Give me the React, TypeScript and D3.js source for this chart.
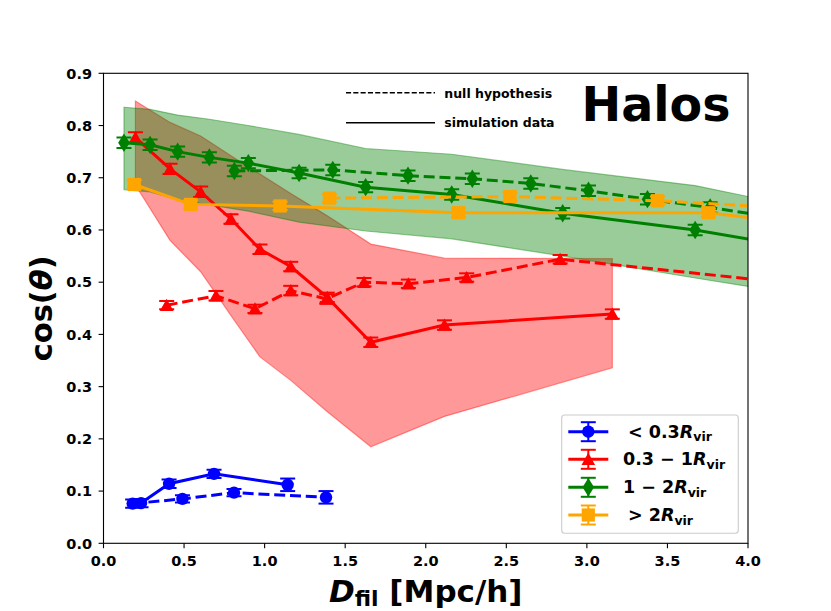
import React from 'react';
import * as d3 from 'd3';

// ---------- data ----------
const xTicks = [0.0, 0.5, 1.0, 1.5, 2.0, 2.5, 3.0, 3.5, 4.0];
const yTicks = [0.0, 0.1, 0.2, 0.3, 0.4, 0.5, 0.6, 0.7, 0.8, 0.9];

// < 0.3 Rvir (blue)
const blueSimX = [0.233, 0.407, 0.686, 1.143];
const blueSimY = [0.077, 0.114, 0.133, 0.112];
const blueSimE = [0.008, 0.008, 0.008, 0.012];
const blueNullX = [0.181, 0.49, 0.81, 1.381];
const blueNullY = [0.076, 0.085, 0.097, 0.088];
const blueNullE = [0.008, 0.007, 0.007, 0.012];

// 0.3 - 1 Rvir (red)
const redSimX = [0.198, 0.413, 0.603, 0.791, 0.971, 1.162, 1.389, 1.659, 2.116, 3.158];
const redSimY = [0.777, 0.717, 0.673, 0.621, 0.563, 0.53, 0.471, 0.385, 0.418, 0.439];
const redSimE = [0.01, 0.01, 0.01, 0.009, 0.009, 0.009, 0.009, 0.009, 0.009, 0.009];
const redNullX = [0.392, 0.698, 0.94, 1.162, 1.385, 1.617, 1.892, 2.254, 2.834, 4.3];
const redNullY = [0.456, 0.474, 0.449, 0.484, 0.468, 0.5, 0.497, 0.509, 0.544, 0.497];
const redNullE = [0.008, 0.009, 0.008, 0.009, 0.009, 0.008, 0.008, 0.008, 0.008, 0.008];
const redBandTop = [0.847, 0.806, 0.78, 0.742, 0.707, 0.67, 0.627, 0.573, 0.546, 0.545];
const redBandBot = [0.686, 0.58, 0.52, 0.436, 0.357, 0.312, 0.252, 0.185, 0.243, 0.336];

// 1 - 2 Rvir (green)
const greenSimX = [0.127, 0.289, 0.46, 0.657, 0.899, 1.214, 1.627, 2.161, 2.85, 3.672, 4.3];
const greenSimY = [0.767, 0.763, 0.75, 0.739, 0.728, 0.709, 0.682, 0.668, 0.632, 0.6, 0.567];
const greenSimE = [0.01, 0.01, 0.01, 0.01, 0.01, 0.01, 0.01, 0.01, 0.01, 0.01, 0.01];
const greenNullX = [0.812, 1.423, 1.89, 2.289, 2.652, 3.01, 3.376, 3.765, 4.3];
const greenNullY = [0.713, 0.715, 0.704, 0.698, 0.689, 0.675, 0.659, 0.643, 0.618];
const greenNullE = [0.01, 0.01, 0.01, 0.01, 0.01, 0.01, 0.01, 0.01, 0.01];
const greenBandTop = [0.835, 0.831, 0.82, 0.812, 0.8, 0.783, 0.756, 0.745, 0.716, 0.685, 0.645];
const greenBandBot = [0.677, 0.673, 0.658, 0.648, 0.636, 0.615, 0.598, 0.583, 0.55, 0.508, 0.477];

// > 2 Rvir (orange)
const orangeSimX = [0.191, 0.541, 1.096, 2.203, 3.754, 4.3];
const orangeSimY = [0.687, 0.649, 0.646, 0.633, 0.633, 0.613];
const orangeSimE = [0.008, 0.008, 0.008, 0.008, 0.008, 0.008];
const orangeNullX = [1.402, 2.523, 3.438, 4.3];
const orangeNullY = [0.661, 0.664, 0.656, 0.641];
const orangeNullE = [0.008, 0.008, 0.008, 0.008];

const legendLabels = ['< 0.3', '0.3 \u2212 1', '1 \u2212 2', '> 2'];

// ---------- layout ----------
const W = 831;
const H = 611;
const L = 103.5, R = 748, T = 73.3, B = 543.3;
const FONT = "'DejaVu Sans', sans-serif";

const xs = d3.scaleLinear().domain([0, 4]).range([L, R]);
const ys = d3.scaleLinear().domain([0, 0.9]).range([B, T]);

type Mk = 'o' | '^' | 'd' | 's';

function marker(type: Mk, cx: number, cy: number, color: string, key: string) {
  if (type === 'o') return <circle key={key} cx={cx} cy={cy} r={6.2} fill={color} />;
  if (type === '^')
    return <path key={key} d={`M${cx},${cy - 6.5}L${cx + 6.8},${cy + 5.8}L${cx - 6.8},${cy + 5.8}Z`} fill={color} />;
  if (type === 'd')
    return <path key={key} d={`M${cx},${cy - 9.2}L${cx + 5.8},${cy}L${cx},${cy + 9.2}L${cx - 5.8},${cy}Z`} fill={color} />;
  return <rect key={key} x={cx - 6.6} y={cy - 6.6} width={13.2} height={13.2} fill={color} />;
}

function Series(props: {
  xv: number[]; yv: number[]; ev: number[]; color: string; mk: Mk; dashed: boolean; id: string;
}) {
  const { xv, yv, ev, color, mk, dashed, id } = props;
  const pts: [number, number][] = xv.map((v, i) => [v, yv[i]]);
  const line = d3.line<[number, number]>().x(d => xs(d[0])).y(d => ys(d[1]));
  const cap = 7.5;
  return (
    <g>
      <path d={line(pts) || ''} fill="none" stroke={color} strokeWidth={3}
        strokeDasharray={dashed ? '11 4.8' : undefined} />
      {pts.map((p, i) => {
        const cx = xs(p[0]);
        const y1 = ys(p[1] + ev[i]);
        const y2 = ys(p[1] - ev[i]);
        return (
          <g key={id + i}>
            <line x1={cx} x2={cx} y1={y1} y2={y2} stroke={color} strokeWidth={2} />
            <line x1={cx - cap} x2={cx + cap} y1={y1} y2={y1} stroke={color} strokeWidth={2} />
            <line x1={cx - cap} x2={cx + cap} y1={y2} y2={y2} stroke={color} strokeWidth={2} />
            {marker(mk, cx, ys(p[1]), color, id + 'm' + i)}
          </g>
        );
      })}
    </g>
  );
}

function Band(props: { xv: number[]; top: number[]; bot: number[]; color: string }) {
  const { xv, top, bot, color } = props;
  const idx = xv.map((_, i) => i);
  const area = d3.area<number>().x(i => xs(xv[i])).y0(i => ys(bot[i])).y1(i => ys(top[i]));
  return <path d={area(idx) || ''} fill={color} fillOpacity={0.4} stroke={color} strokeOpacity={0.4} strokeWidth={1.2} />;
}

export default function App() {
  const legendRows = [
    { color: 'blue', mk: 'o' as Mk },
    { color: 'red', mk: '^' as Mk },
    { color: 'green', mk: 'd' as Mk },
    { color: 'orange', mk: 's' as Mk },
  ];
  const rowY = [431.7, 459.3, 487.3, 515];
  const textX = [628, 623, 623, 628];
  return (
    <svg width={W} height={H} style={{ position: 'absolute', left: 0, top: 0, background: '#fff' }}
      fontFamily={FONT}>
      <defs>
        <clipPath id="plotclip">
          <rect x={L} y={T} width={R - L} height={B - T} />
        </clipPath>
      </defs>
      <rect x={0} y={0} width={W} height={H} fill="#fff" />

      <g clipPath="url(#plotclip)">
        <Band xv={redSimX} top={redBandTop} bot={redBandBot} color="red" />
        <Band xv={greenSimX} top={greenBandTop} bot={greenBandBot} color="green" />

        <Series xv={blueNullX} yv={blueNullY} ev={blueNullE} color="blue" mk="o" dashed id="bn" />
        <Series xv={blueSimX} yv={blueSimY} ev={blueSimE} color="blue" mk="o" dashed={false} id="bs" />
        <Series xv={redNullX} yv={redNullY} ev={redNullE} color="red" mk="^" dashed id="rn" />
        <Series xv={redSimX} yv={redSimY} ev={redSimE} color="red" mk="^" dashed={false} id="rs" />
        <Series xv={greenNullX} yv={greenNullY} ev={greenNullE} color="green" mk="d" dashed id="gn" />
        <Series xv={greenSimX} yv={greenSimY} ev={greenSimE} color="green" mk="d" dashed={false} id="gs" />
        <Series xv={orangeNullX} yv={orangeNullY} ev={orangeNullE} color="orange" mk="s" dashed id="on" />
        <Series xv={orangeSimX} yv={orangeSimY} ev={orangeSimE} color="orange" mk="s" dashed={false} id="os" />
      </g>

      {/* frame */}
      <rect x={L} y={T} width={R - L} height={B - T} fill="none" stroke="#000" strokeWidth={1.1} />

      {/* x ticks */}
      {xTicks.map(t => (
        <g key={'xt' + t}>
          <line x1={xs(t)} x2={xs(t)} y1={B} y2={B + 4.9} stroke="#000" strokeWidth={1.1} />
          <text x={xs(t)} y={566} textAnchor="middle" fontSize={14.5} fontWeight="bold">{t.toFixed(1)}</text>
        </g>
      ))}
      {/* y ticks */}
      {yTicks.map(t => (
        <g key={'yt' + t}>
          <line x1={L - 4.9} x2={L} y1={ys(t)} y2={ys(t)} stroke="#000" strokeWidth={1.1} />
          <text x={92} y={ys(t) + 5.2} textAnchor="end" fontSize={14.5} fontWeight="bold">{t.toFixed(1)}</text>
        </g>
      ))}

      {/* axis labels */}
      <text x={(L + R) / 2} y={601.5} textAnchor="middle" fontSize={31} fontWeight="bold">
        <tspan fontStyle="italic">D</tspan>
        <tspan fontSize={22} dy={4}>fil</tspan>
        <tspan dy={-4}> [Mpc/h]</tspan>
      </text>
      <text transform={`translate(52,${(T + B) / 2}) rotate(-90)`} textAnchor="middle" fontSize={30.5} fontWeight="bold">
        cos(<tspan fontStyle="italic">θ</tspan>)
      </text>

      {/* top legend */}
      <line x1={346} x2={435} y1={92.7} y2={92.7} stroke="#000" strokeWidth={1.4} strokeDasharray="5.1 2.2" />
      <text x={444.3} y={97.5} fontSize={12.5} fontWeight="bold">null hypothesis</text>
      <line x1={346} x2={435} y1={122.7} y2={122.7} stroke="#000" strokeWidth={1.4} />
      <text x={444.3} y={126.7} fontSize={12.5} fontWeight="bold">simulation data</text>

      <text x={581.5} y={120.7} fontSize={47.5} fontWeight="bold">Halos</text>

      {/* bottom-right legend */}
      <rect x={561.7} y={415} width={176.6} height={118.3} rx={3} fill="#fff" fillOpacity={0.8}
        stroke="#cccccc" strokeWidth={1.1} />
      {legendRows.map((r, i) => {
        const cy = rowY[i];
        const cx = 588.3;
        return (
          <g key={'lg' + i}>
            <line x1={568.3} x2={608.3} y1={cy} y2={cy} stroke={r.color} strokeWidth={3} />
            <line x1={cx} x2={cx} y1={cy - 9.5} y2={cy + 9.5} stroke={r.color} strokeWidth={2} />
            <line x1={cx - 7.5} x2={cx + 7.5} y1={cy - 9.5} y2={cy - 9.5} stroke={r.color} strokeWidth={2} />
            <line x1={cx - 7.5} x2={cx + 7.5} y1={cy + 9.5} y2={cy + 9.5} stroke={r.color} strokeWidth={2} />
            {marker(r.mk, cx, cy, r.color, 'lgm' + i)}
            <text x={textX[i]} y={cy + 6} fontSize={17.5} fontWeight="bold">
              {legendLabels[i]}
              <tspan fontStyle="italic">R</tspan>
              <tspan fontSize={12.5} dy={3.5}>vir</tspan>
            </text>
          </g>
        );
      })}
    </svg>
  );
}
